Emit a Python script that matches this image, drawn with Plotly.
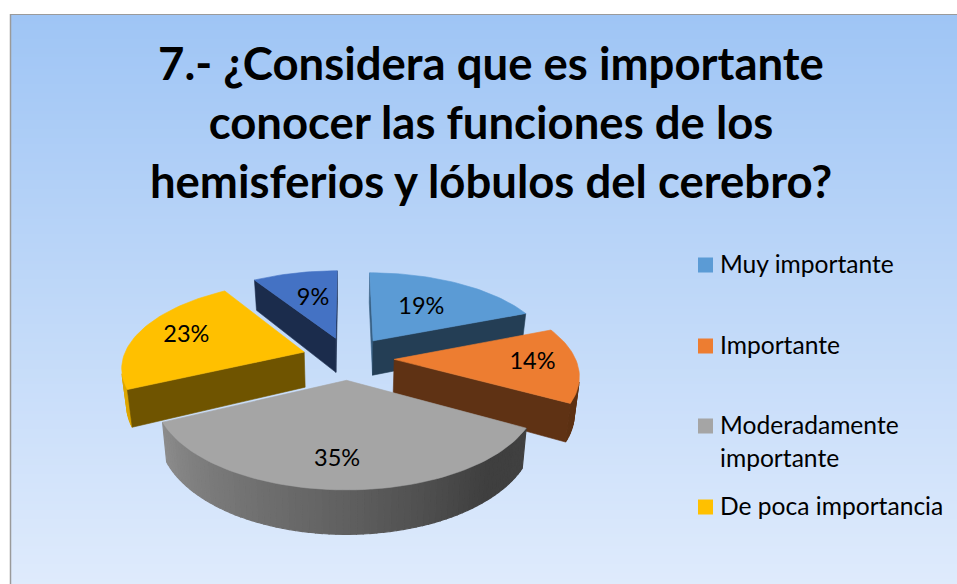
import math
import numpy as np
import plotly.graph_objects as go

# ---- data ----
categories = ["Muy importante", "Importante", "Moderadamente importante", "De poca importancia", "Nada importante"]
values = [19, 14, 35, 23, 9]
colors = ["#5B9BD5", "#ED7D31", "#A5A5A5", "#FFC000", "#4472C4"]
title_lines = ["7.- ¿Considera que es importante", "conocer las funciones de los",
               "hemisferios y lóbulos del cerebro?"]
legend_lines = [["Muy importante"], ["Importante"], ["Moderadamente", "importante"], ["De poca importancia"]]

# ---- view of the tilted pie ----
W, H = 957, 584
CX, CY, RX, RY, K = 348, 358, 181, 84, 0.16
EXPLODE, DEPTH, BOTTOM_SCALE = 0.255, 35.5, 0.978
LABEL_R = [0.53, 0.74, 0.76, 0.74, 0.57]
LABEL_NUDGE_X = [1, 3, -4, 4, 2]
START_SHADE = [0.62, 0.40, 0.40, 0.435, 0.39]
END_SHADE = [0.40, 0.40, 0.40, 0.435, 0.39]
RIM_ANGLES = [0, 90, 140, 180, 250, 360]
RIM_SHADES = [0.4, 0.4, 0.38, 0.58, 0.87, 0.9]
LEGEND_Y = [265, 346, 426, 507]
LEGEND_LINE = 33
FONT = "Lato, Carlito, Calibri, sans-serif"


def shade(hex_color, f):
    r, g, b = (int(hex_color[i:i + 2], 16) for i in (1, 3, 5))
    return f"rgb({r * f:.0f},{g * f:.0f},{b * f:.0f})"


def top(x, y):
    w = 1 / (1 + K * y)
    return CX + RX * x * w, CY - RY * y * w


def bottom(x, y):
    w = 1 / (1 + K * y)
    return CX + RX * x * w * BOTTOM_SCALE, CY - RY * y * w + DEPTH * w


def polar(t, r, mid):
    return (r * math.sin(t) + EXPLODE * math.sin(mid),
            r * math.cos(t) + EXPLODE * math.cos(mid))


def area(pts):
    return sum(pts[i][0] * pts[(i + 1) % len(pts)][1] - pts[(i + 1) % len(pts)][0] * pts[i][1]
               for i in range(len(pts))) / 2


fig = go.Figure()


def poly(pts, color, lw=0.6):
    xs = [p[0] for p in pts] + [pts[0][0]]
    ys = [p[1] for p in pts] + [pts[0][1]]
    fig.add_trace(go.Scatter(x=xs, y=ys, mode="lines", fill="toself", fillcolor=color,
                             line=dict(color=color, width=lw), hoverinfo="skip", showlegend=False))


def wall(a, b, color, lw=0.6):
    # a and b are world points; draw only if the wall faces the viewer
    q = [top(*a), top(*b), bottom(*b), bottom(*a)]
    if area(q) < 0:
        poly(q, color, lw)


total = sum(values)
edges = np.cumsum([0] + values) / total * 2 * math.pi
order = [4, 0, 3, 1, 2]  # back to front
label_x, label_y, label_t = [], [], []
for i in order:
    t0, t1 = edges[i], edges[i + 1]
    mid = (t0 + t1) / 2
    apex = polar(0, 0, mid)
    n = int(values[i] * 2) + 2
    ts = np.linspace(t0, t1, n)
    arc = [polar(t, 1, mid) for t in ts]
    for j in range(n - 1):
        f = float(np.interp(math.degrees((ts[j] + ts[j + 1]) / 2), RIM_ANGLES, RIM_SHADES))
        wall(arc[j], arc[j + 1], shade(colors[i], f), lw=1.2)
    # the two cut faces
    wall(apex, arc[0], shade(colors[i], START_SHADE[i]))
    wall(arc[-1], apex, shade(colors[i], END_SHADE[i]))
    poly([top(*apex)] + [top(*p) for p in arc], colors[i])
    lx, ly = top(*polar(mid, LABEL_R[i], mid))
    label_x.append(lx + LABEL_NUDGE_X[i]); label_y.append(ly); label_t.append(f"{values[i]}%")

fig.add_trace(go.Scatter(x=label_x, y=label_y, text=label_t, mode="text", textposition="middle center",
                         textfont=dict(family=FONT, size=23.5, color="#000000"),
                         hoverinfo="skip", showlegend=False))

# legend, drawn at the reference's uneven spacing
fig.add_trace(go.Scatter(x=[705.5] * len(LEGEND_Y), y=LEGEND_Y, mode="markers",
                         marker=dict(symbol="square", size=15, color=colors[:4], line=dict(width=0)),
                         hoverinfo="skip", showlegend=False))
tx, ty, tt = [], [], []
for y, lines in zip(LEGEND_Y, legend_lines):
    for n, s in enumerate(lines):
        tx.append(720); ty.append(y + 1.5 + n * LEGEND_LINE); tt.append(s)
fig.add_trace(go.Scatter(x=tx, y=ty, text=tt, mode="text", textposition="middle right",
                         textfont=dict(family=FONT, size=24.6, color="#000000"),
                         hoverinfo="skip", showlegend=False))

# background panel with its vertical gradient
c0, c1 = np.array([159, 197, 245]), np.array([223, 235, 252])
shapes = []
PANEL_X, PANEL_Y = 11, 15
for y in range(PANEL_Y, H, 3):
    c = c0 + (c1 - c0) * (y - PANEL_Y) / (H - PANEL_Y)
    col = f"rgb({c[0]:.0f},{c[1]:.0f},{c[2]:.0f})"
    shapes.append(dict(type="rect", xref="x", yref="y", x0=PANEL_X, x1=W, y0=y, y1=y + 3,
                       fillcolor=col, line=dict(width=0), layer="below"))
shapes.append(dict(type="line", xref="x", yref="y", x0=PANEL_X - 0.5, x1=PANEL_X - 0.5, y0=14, y1=H,
                   line=dict(color="#9A9A9A", width=1.5), layer="below"))
shapes.append(dict(type="line", xref="x", yref="y", x0=PANEL_X - 1, x1=W, y0=14.5, y1=14.5,
                   line=dict(color="#9A9A9A", width=1), layer="below"))

fig.update_layout(
    width=W, height=H, margin=dict(l=0, r=0, t=0, b=0), paper_bgcolor="white", plot_bgcolor="rgba(0,0,0,0)",
    xaxis=dict(range=[0, W], visible=False, fixedrange=True),
    yaxis=dict(range=[H, 0], visible=False, fixedrange=True),
    shapes=shapes, showlegend=False,
    title=dict(text="<br>".join(f"<b>{s}</b>" for s in title_lines),
               x=491 / W, xanchor="center", y=1 - 80 / H, yanchor="top",
               font=dict(family=FONT, size=45.5, color="#000000")),
)
fig.write_html("out.html", config=dict(displayModeBar=False),
               post_script="document.body.style.margin='0';document.body.style.overflow='hidden';")
